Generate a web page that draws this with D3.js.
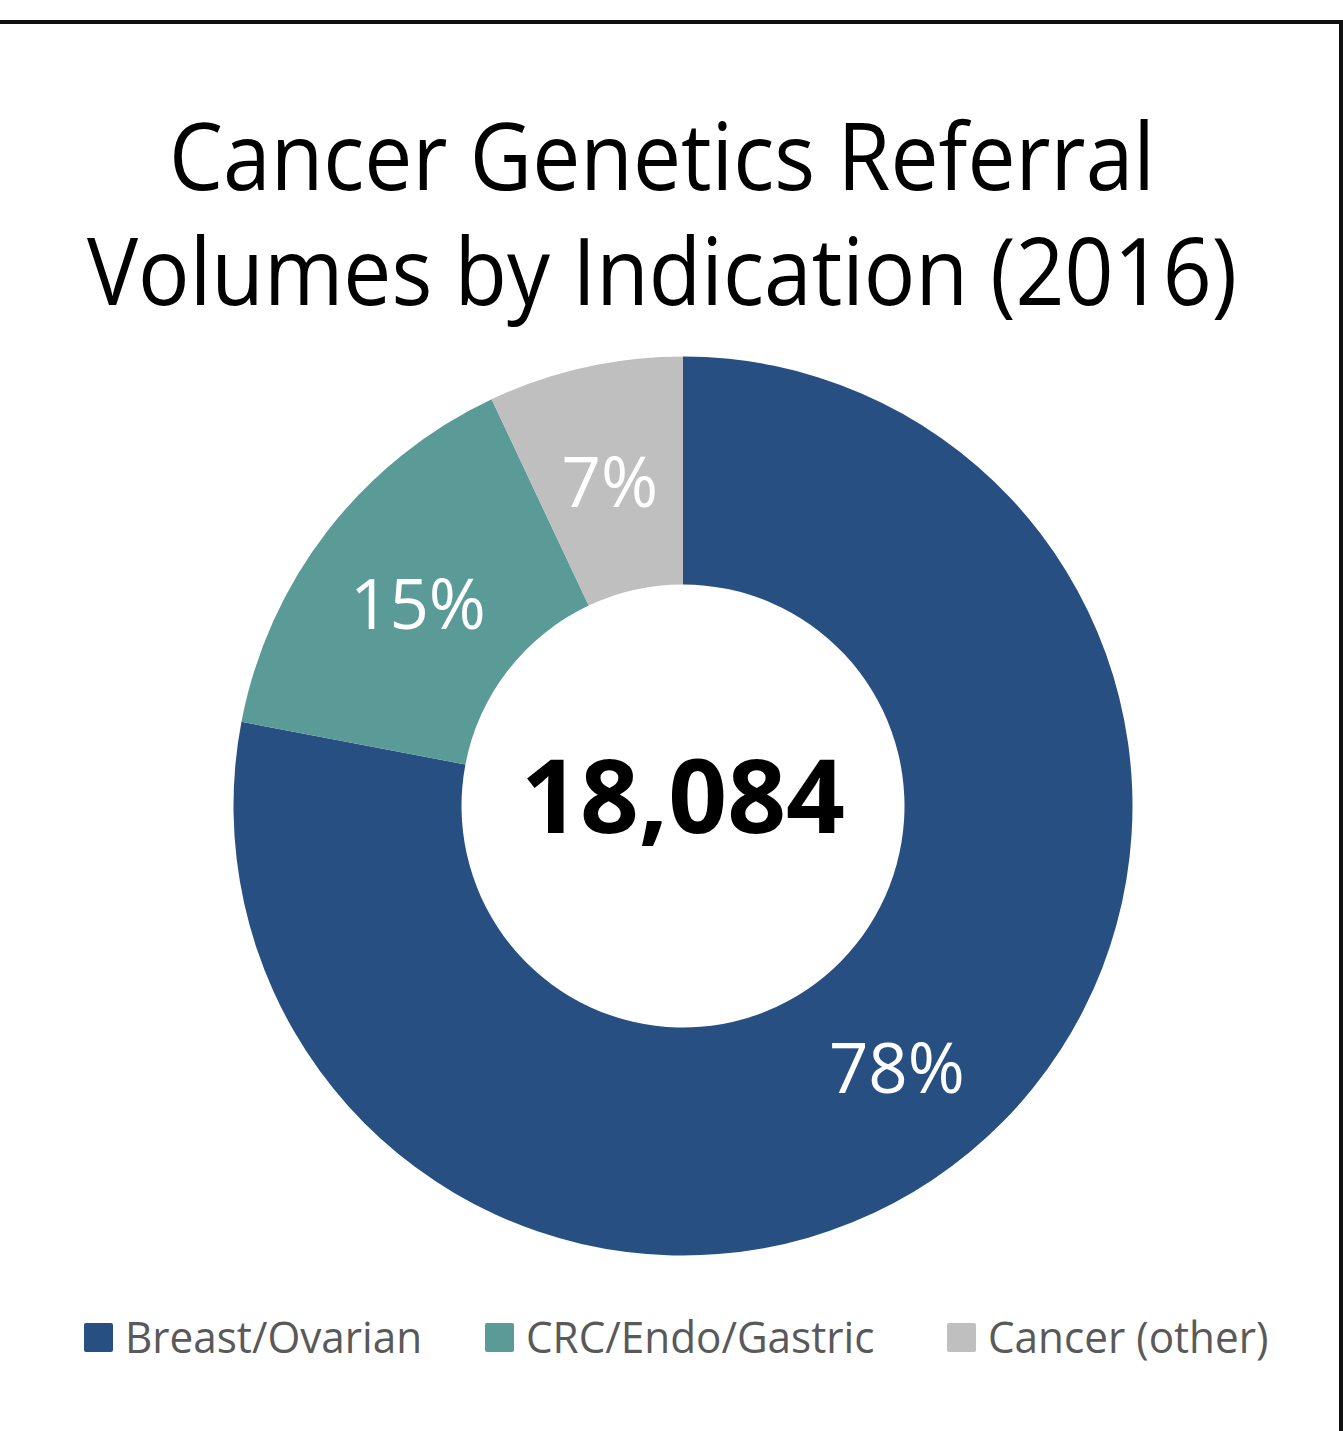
<!DOCTYPE html>
<html>
<head>
<meta charset="utf-8">
<script src="https://cdn.jsdelivr.net/npm/d3@7"></script>
<style>
  html, body { margin: 0; padding: 0; background: #fff; }
  svg { display: block; }
</style>
</head>
<body>
<div id="chart"></div>
<script>
const width = 1343;
const height = 1431;

// Data
const categories = ["Breast/Ovarian", "CRC/Endo/Gastric", "Cancer (other)"];
const shares = [78, 15, 7];
const colors = ["#274f82", "#5b9b97", "#bfbfbf"];
const titleLines = ["Cancer Genetics Referral", "Volumes by Indication (2016)"];
const totalLabel = "18,084";

const font = "'Open Sans', 'Noto Sans', sans-serif";

// Open Sans runs wider than the original's font; squeeze text a bit
function condense(factor) {
    return sel => sel.each(function() {
        const w = this.getComputedTextLength();
        d3.select(this)
            .attr("textLength", w * factor)
            .attr("lengthAdjust", "spacingAndGlyphs");
    });
}

const svg = d3.select("#chart").append("svg")
    .attr("width", width)
    .attr("height", height)
    .attr("viewBox", [0, 0, width, height]);

// frame lines (top and right)
svg.append("line")
    .attr("x1", 0).attr("x2", 1343)
    .attr("y1", 22).attr("y2", 22)
    .attr("stroke", "#111").attr("stroke-width", 4);
svg.append("line")
    .attr("x1", 1341).attr("x2", 1341)
    .attr("y1", 20).attr("y2", height)
    .attr("stroke", "#111").attr("stroke-width", 4);

// title
svg.append("g")
    .selectAll("text")
    .data(titleLines)
    .join("text")
    .attr("x", 662)
    .attr("y", (d, i) => 190 + i * 115)
    .attr("text-anchor", "middle")
    .attr("font-family", font)
    .attr("font-size", 93)
    .attr("fill", "#000")
    .text(d => d)
    .call(condense(0.922));

// donut
const cx = 683, cy = 806;
const outerR = 449.5, innerR = 221.5;

const pie = d3.pie().sort(null).value(d => d);
const arc = d3.arc().innerRadius(innerR).outerRadius(outerR);
const arcs = pie(shares);

const g = svg.append("g").attr("transform", `translate(${cx},${cy})`);

g.selectAll("path")
    .data(arcs)
    .join("path")
    .attr("d", arc)
    .attr("fill", (d, i) => colors[i]);

g.selectAll("text.pct")
    .data(arcs)
    .join("text")
    .attr("class", "pct")
    .attr("transform", d => `translate(${arc.centroid(d)})`)
    .attr("dy", "0.41em")
    .attr("text-anchor", "middle")
    .attr("font-family", font)
    .attr("font-size", 69)
    .attr("fill", "#fff")
    .text(d => d.data + "%");

g.append("text")
    .attr("text-anchor", "middle")
    .attr("y", 27)
    .attr("font-family", font)
    .attr("font-weight", "bold")
    .attr("font-size", 103)
    .attr("fill", "#000")
    .text(totalLabel);

// legend
const legendX = [84, 485, 947];
const legend = svg.append("g")
    .selectAll("g")
    .data(categories)
    .join("g")
    .attr("transform", (d, i) => `translate(${legendX[i]},1323)`);

legend.append("rect")
    .attr("width", 29).attr("height", 29)
    .attr("rx", 2)
    .attr("fill", (d, i) => colors[i]);

legend.append("text")
    .attr("x", 41)
    .attr("y", 30)
    .attr("font-family", font)
    .attr("font-size", 44)
    .attr("fill", "#595959")
    .text(d => d)
    .call(condense(0.96));
</script>
</body>
</html>
